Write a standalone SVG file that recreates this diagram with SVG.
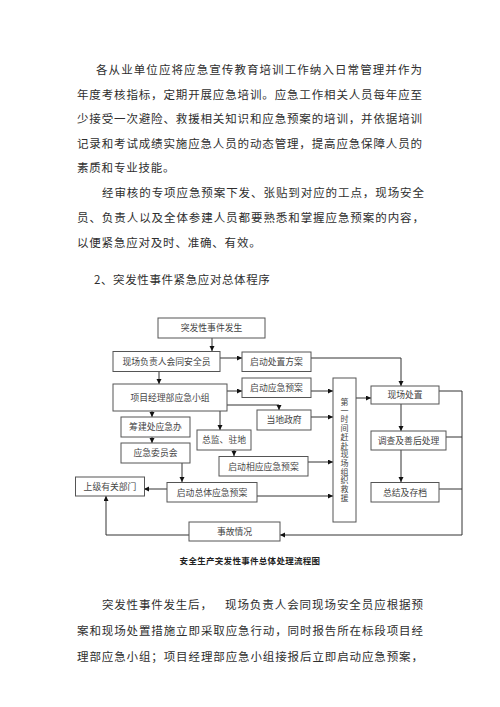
<svg xmlns="http://www.w3.org/2000/svg" width="500" height="707" viewBox="0 0 500 707">
<style>
.body{font-family:"Noto Sans CJK SC","Liberation Serif",sans-serif;font-size:11.5px;fill:#2e2e2e;}
.box{fill:#fff;stroke:#555;stroke-width:1;}
.lbl{font-family:"Noto Sans CJK SC","Liberation Serif",sans-serif;font-size:8.8px;fill:#444;text-anchor:middle;}
.vl{font-family:"Noto Sans CJK SC","Liberation Serif",sans-serif;font-size:8px;fill:#444;writing-mode:vertical-rl;letter-spacing:0.7px;}
.cap{font-family:"Noto Sans CJK SC","Liberation Serif",sans-serif;font-size:8.5px;font-weight:bold;fill:#222;text-anchor:middle;}
.ln{fill:none;stroke:#333;stroke-width:1;}
</style>
<defs>
<marker id="ah" markerUnits="userSpaceOnUse" markerWidth="6" markerHeight="6" refX="5" refY="2.5" orient="auto">
<path d="M0,0 L5,2.5 L0,5 z" fill="#111"/>
</marker>
</defs>
<rect width="500" height="707" fill="#fff"/>

<g id="para1">
<text class="body" x="96" y="74" textLength="326" lengthAdjust="spacing">各从业单位应将应急宣传教育培训工作纳入日常管理并作为</text>
<text class="body" x="77" y="98.5" textLength="345" lengthAdjust="spacing">年度考核指标，定期开展应急培训。应急工作相关人员每年应至</text>
<text class="body" x="77" y="123" textLength="345" lengthAdjust="spacing">少接受一次避险、救援相关知识和应急预案的培训，并依据培训</text>
<text class="body" x="77" y="147.5" textLength="345" lengthAdjust="spacing">记录和考试成绩实施应急人员的动态管理，提高应急保障人员的</text>
<text class="body" x="77" y="172" letter-spacing="0.8">素质和专业技能。</text>
</g>
<g id="para2">
<text class="body" x="102" y="197" textLength="322" lengthAdjust="spacing">经审核的专项应急预案下发、张贴到对应的工点，现场安全</text>
<text class="body" x="77" y="222" textLength="347" lengthAdjust="spacing">员、负责人以及全体参建人员都要熟悉和掌握应急预案的内容，</text>
<text class="body" x="77" y="247" letter-spacing="0.8">以便紧急应对及时、准确、有效。</text>
</g>
<g id="heading">
<text class="body" x="94" y="284" letter-spacing="0.6">2、突发性事件紧急应对总体程序</text>
</g>

<g id="connectors">
<path class="ln" marker-end="url(#ah)" d="M212,338 V351"/>
<path class="ln" marker-end="url(#ah)" d="M159,371 V384"/>
<path class="ln" marker-end="url(#ah)" d="M220,358 H242"/>
<path class="ln" marker-end="url(#ah)" d="M311,358 H401 V386"/>
<path class="ln" marker-end="url(#ah)" d="M227,391 H242"/>
<path class="ln" marker-end="url(#ah)" d="M311,391 H333"/>
<path class="ln" marker-end="url(#ah)" d="M227,405 H279 V410"/>
<path class="ln" marker-end="url(#ah)" d="M311,417 H333"/>
<path class="ln" marker-end="url(#ah)" d="M152,411 V417"/>
<path class="ln" marker-end="url(#ah)" d="M220,411 V430"/>
<path class="ln" marker-end="url(#ah)" d="M152,437 V443"/>
<path class="ln" marker-end="url(#ah)" d="M234,450 V456"/>
<path class="ln" marker-end="url(#ah)" d="M308,462 H333"/>
<path class="ln" marker-end="url(#ah)" d="M182,463 V482"/>
<path class="ln" marker-end="url(#ah)" d="M167,489 H144"/>
<path class="ln" marker-end="url(#ah)" d="M257,496 H333"/>
<path class="ln" marker-end="url(#ah)" d="M356,398 H371"/>
<path class="ln" marker-end="url(#ah)" d="M401,404 V431"/>
<path class="ln" marker-end="url(#ah)" d="M401,450 V482"/>
<path class="ln" marker-end="url(#ah)" d="M439,391 H462 V535 H280"/>
<path class="ln" d="M446,437 H462"/>
<path class="ln" d="M439,489 H462"/>
<path class="ln" marker-end="url(#ah)" d="M189,535 H106 V496"/>
</g>

<g id="n-tufa"><rect class="box" x="158" y="318" width="107" height="20"/><text class="lbl" x="211.5" y="331.2">突发性事件发生</text></g>
<g id="n-xianchang"><rect class="box" x="113" y="351.5" width="107" height="20"/><text class="lbl" x="166.5" y="364.7">现场负责人会同安全员</text></g>
<g id="n-qidongczfa"><rect class="box" x="242" y="352" width="69" height="19.5"/><text class="lbl" x="276.5" y="365">启动处置方案</text></g>
<g id="n-xiangmu"><rect class="box" x="113" y="384" width="114" height="27"/><text class="lbl" x="170" y="400.5">项目经理部应急小组</text></g>
<g id="n-qidongyjya"><rect class="box" x="242" y="378" width="69" height="19.5"/><text class="lbl" x="276.5" y="391">启动应急预案</text></g>
<g id="n-dangdi"><rect class="box" x="257" y="410" width="54" height="20"/><text class="lbl" x="284" y="423.2">当地政府</text></g>
<g id="n-choujian"><rect class="box" x="121" y="417" width="69" height="20"/><text class="lbl" x="155.5" y="430.2">筹建处应急办</text></g>
<g id="n-zongjian"><rect class="box" x="197" y="430" width="54" height="20"/><text class="lbl" x="224" y="443.2">总监、驻地</text></g>
<g id="n-weiyuanhui"><rect class="box" x="121" y="443" width="69" height="20"/><text class="lbl" x="155.5" y="456.2">应急委员会</text></g>
<g id="n-xiangying"><rect class="box" x="219" y="456.5" width="89" height="19.5"/><text class="lbl" x="263.5" y="469.5">启动相应应急预案</text></g>
<g id="n-shangji"><rect class="box" x="75.5" y="477" width="69" height="19"/><text class="lbl" x="110" y="489.8">上级有关部门</text></g>
<g id="n-zongti"><rect class="box" x="167" y="482.5" width="90" height="19.5"/><text class="lbl" x="212" y="495.5">启动总体应急预案</text></g>
<g id="n-shigu"><rect class="box" x="189" y="522" width="91" height="19"/><text class="lbl" x="234.5" y="534.8">事故情况</text></g>
<g id="n-diyi"><rect class="box" x="333" y="378" width="23" height="144"/>
<text class="vl" x="344.5" y="398">第一时间赶赴现场组织救援</text>
</g>
<g id="n-chuzhi"><rect class="box" x="371" y="386" width="68" height="18"/><text class="lbl" x="405" y="398.3">现场处置</text></g>
<g id="n-diaocha"><rect class="box" x="371" y="431" width="75" height="19"/><text class="lbl" x="408.5" y="443.8">调查及善后处理</text></g>
<g id="n-zongjie"><rect class="box" x="371" y="482.5" width="68" height="19.5"/><text class="lbl" x="405" y="495.5">总结及存档</text></g>

<g id="caption"><text class="cap" x="250" y="564" letter-spacing="0.3">安全生产突发性事件总体处理流程图</text></g>

<g id="para3">
<text class="body" x="102" y="609" letter-spacing="0.8">突发性事件发生后，</text>
<text class="body" x="225" y="609" textLength="198" lengthAdjust="spacing">现场负责人会同现场安全员应根据预</text>
<text class="body" x="77" y="635" textLength="346" lengthAdjust="spacing">案和现场处置措施立即采取应急行动，同时报告所在标段项目经</text>
<text class="body" x="77" y="661" textLength="346" lengthAdjust="spacing">理部应急小组；项目经理部应急小组接报后立即启动应急预案，</text>
</g>
</svg>
